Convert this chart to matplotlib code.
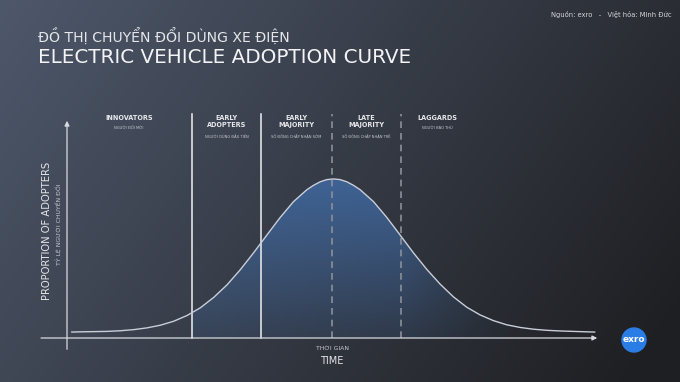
import matplotlib
matplotlib.use("Agg")
import matplotlib.pyplot as plt
import numpy as np
from matplotlib.patches import Ellipse

plt.rcParams['font.family'] = ['DejaVu Sans']

# ---- data ----
time_pts = [0.9, 2.5, 5, 7.5, 10, 12.5, 15, 17.5, 20, 22.5, 25, 27.5, 30, 32.5, 35, 37.5,
            40, 42.5, 45, 46.25, 47.5, 48.75, 50, 51.25, 52.5, 53.75, 55, 57.5, 60, 62.5,
            65, 67.5, 70, 72.5, 75, 77.5, 80, 82.5, 85, 87.5, 90, 92.5, 95, 97.5, 99]
adopters = [0.027, 0.028, 0.029, 0.030, 0.033, 0.038, 0.046, 0.058, 0.076, 0.102, 0.137,
            0.184, 0.241, 0.310, 0.387, 0.468, 0.548, 0.620, 0.674, 0.694, 0.710, 0.720,
            0.723, 0.720, 0.710, 0.694, 0.674, 0.620, 0.548, 0.468, 0.387, 0.312, 0.245,
            0.187, 0.140, 0.105, 0.079, 0.060, 0.048, 0.040, 0.035, 0.032, 0.030, 0.028,
            0.027]
solid_lines = [23.5, 36.4]
dashed_lines = [49.8, 62.6]
groups = ["INNOVATORS", "EARLY\nADOPTERS", "EARLY\nMAJORITY", "LATE\nMAJORITY", "LAGGARDS"]
groups_vi = ["NGƯỜI ĐỔI MỚI", "NGƯỜI DÙNG ĐẦU TIÊN", "SỐ ĐÔNG CHẤP NHẬN SỚM",
             "SỐ ĐÔNG CHẤP NHẬN TRỄ", "NGƯỜI BẢO THỦ"]
group_x = [11.6, 30.0, 43.0, 56.1, 69.4]

txt = '#e6e7ea'

fig = plt.figure(figsize=(6.8, 3.82), dpi=100)

# background gradient
bg = fig.add_axes([0, 0, 1, 1])
xx, yy = np.meshgrid(np.linspace(0, 1, 340), np.linspace(0, 1, 191))
t = np.clip(0.75 * xx + 0.3 * yy, 0, 1)[..., None]
light = np.array([78, 88, 107]) / 255
dark = np.array([30, 31, 34]) / 255
img = light * (1 - t) + dark * t
bg.imshow(img, extent=[0, 1, 1, 0], aspect='auto', interpolation='bilinear')
bg.set_xlim(0, 1)
bg.set_ylim(1, 0)
bg.axis('off')

# main chart
ax = fig.add_axes([67 / 680, 1 - 338 / 382, 533 / 680, 220 / 382])
ax.set_xlim(0, 100)
ax.set_ylim(0, 1)
ax.patch.set_alpha(0)
ax.axis('off')

# blue gradient fill under the curve
gx, gy = np.meshgrid(np.linspace(23.5, 100, 300), np.linspace(0, 0.75, 200))
alpha = 0.85 * (0.2 + 0.8 * np.clip(gy / 0.72, 0, 1))
alpha *= np.clip((85 - gx) / 22, 0, 1)
rgba = np.zeros(gx.shape + (4,))
rgba[..., 0] = 64 / 255
rgba[..., 1] = 106 / 255
rgba[..., 2] = 163 / 255
rgba[..., 3] = alpha
im = ax.imshow(rgba, extent=[23.5, 100, 0, 0.75], origin='lower', aspect='auto',
               interpolation='bilinear', zorder=1)
poly = ax.fill_between(time_pts, 0, adopters, color='none', lw=0)
im.set_clip_path(poly.get_paths()[0], transform=ax.transData)

ax.plot(time_pts, adopters, color='#c9ced8', lw=1.0, zorder=3)

for xv in solid_lines:
    ax.plot([xv, xv], [0, 1.02], color='#f0f0f0', lw=1.1, zorder=2, clip_on=False)
for xv in dashed_lines:
    ax.plot([xv, xv], [0, 1.02], color='#8c9099', lw=1.2, ls=(0, (4, 3)), zorder=2,
            clip_on=False)

# axis arrows
ax.annotate('', xy=(100, 0), xytext=(-5.4, 0),
            arrowprops=dict(arrowstyle='-|>', color='#d8dadf', lw=0.9, mutation_scale=7),
            annotation_clip=False)
ax.annotate('', xy=(0, 1.0), xytext=(0, -0.064),
            arrowprops=dict(arrowstyle='-|>', color='#d8dadf', lw=0.9, mutation_scale=7),
            annotation_clip=False)

for gx_, name, vi in zip(group_x, groups, groups_vi):
    ax.text(gx_, 1.012, name, ha='center', va='top', fontsize=4.7, color=txt,
            fontweight='semibold', linespacing=1.05)
    yv = 0.965 if '\n' not in name else 0.925
    ax.text(gx_, yv, vi, ha='center', va='top', fontsize=2.6, color='#c8cad0')

# axis titles
fig.text(47 / 680, 1 - 231 / 382, 'PROPORTION OF ADOPTERS', rotation=90, ha='center',
         va='center', fontsize=7.2, color=txt)
fig.text(59 / 680, 1 - 224 / 382, 'TỶ LỆ NGƯỜI CHUYỂN ĐỔI', rotation=90, ha='center',
         va='center', fontsize=4.4, color='#c8cad0')
fig.text(332 / 680, 1 - 349 / 382, 'THỜI GIAN', ha='center', va='center', fontsize=4.4,
         color='#c8cad0')
fig.text(332 / 680, 1 - 361 / 382, 'TIME', ha='center', va='center', fontsize=7.0, color=txt)

# titles
fig.text(38 / 680, 1 - 42 / 382, 'ĐỒ THỊ CHUYỂN ĐỔI DÙNG XE ĐIỆN', ha='left',
         va='baseline', fontsize=10.1, color=txt)
fig.text(38 / 680, 1 - 63 / 382, 'ELECTRIC VEHICLE ADOPTION CURVE', ha='left',
         va='baseline', fontsize=14.3, color='#f4f4f6')
fig.text(672 / 680, 1 - 14 / 382, 'Nguồn: exro   -   Việt hóa: Minh Đức', ha='right',
         va='center', fontsize=4.9, color='#d4d6da')

# logo
fig.patches.append(Ellipse((634 / 680, 1 - 340 / 382), 24 / 680, 24 / 382,
                           transform=fig.transFigure, color='#2b7de6', zorder=5))
fig.text(634 / 680, 1 - 340 / 382, 'exro', ha='center', va='center', fontsize=6.5,
         color='white', fontweight='bold', zorder=6)

fig.savefig('out.png', dpi=100)
